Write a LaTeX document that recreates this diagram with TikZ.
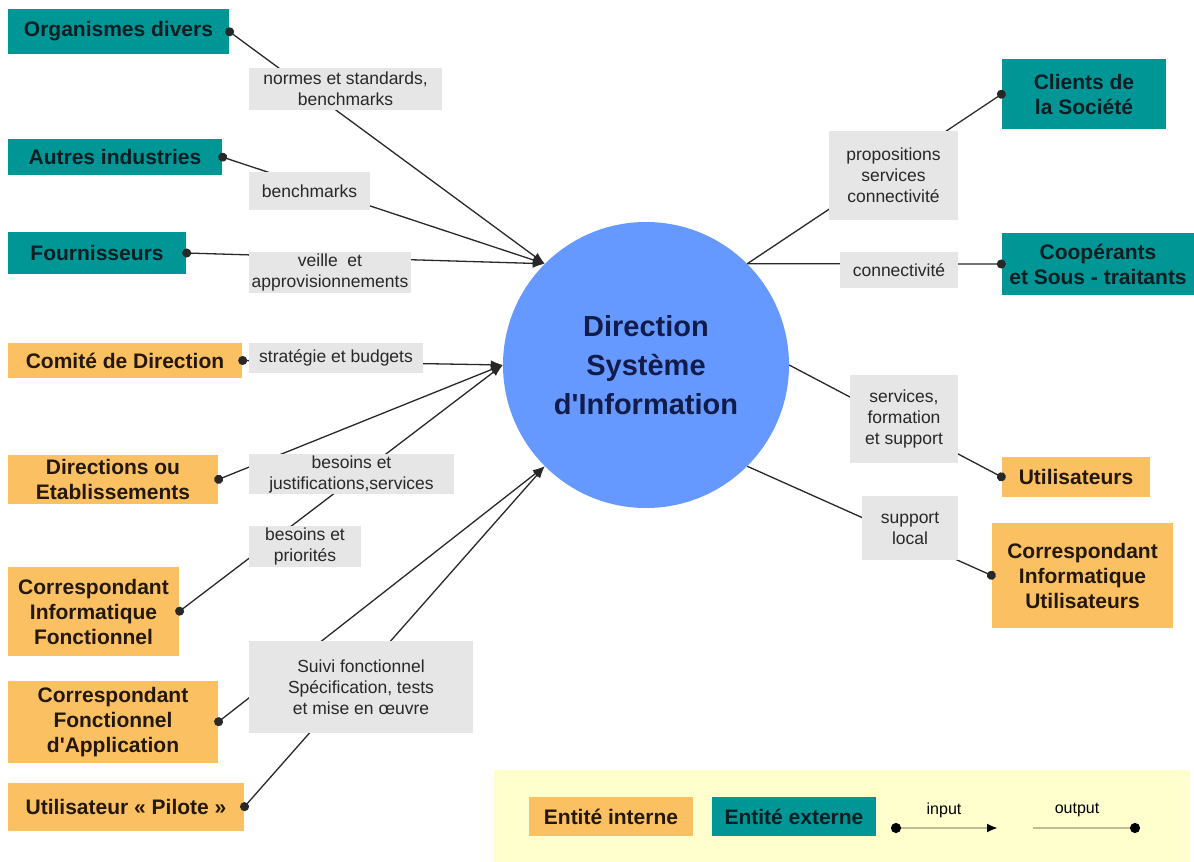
\documentclass[tikz,border=0pt]{standalone}
\usepackage{fontspec}
\setmainfont{Liberation Sans}[Ligatures=TeXOff]
\usetikzlibrary{arrows.meta}
\definecolor{tealC}{RGB}{0,150,150}
\definecolor{orangeC}{RGB}{251,192,98}
\definecolor{grayL}{RGB}{230,230,230}
\definecolor{circC}{RGB}{102,153,255}
\definecolor{navyC}{RGB}{17,28,75}
\definecolor{legBg}{RGB}{255,255,206}
\definecolor{lineC}{RGB}{40,40,40}
\definecolor{legLine}{RGB}{190,190,150}
\definecolor{intText}{RGB}{35,24,10}
\definecolor{extText}{RGB}{8,30,35}
\definecolor{labText}{RGB}{40,40,40}
\begin{document}
\begin{tikzpicture}[x=1pt,y=-1pt,
  ent/.style={inner sep=0pt, align=center, font=\fontsize{21}{25}\selectfont\bfseries},
  intern/.style={ent, fill=orangeC, text=intText},
  extern/.style={ent, fill=tealC, text=extText},
  lab/.style={fill=grayL, inner sep=0pt, align=center, text=labText, font=\fontsize{17.5}{21}\selectfont},
  conn/.style={draw=lineC, line width=1.3pt},
  inp/.style={conn, shorten <=-4pt, {Circle[length=9pt]}-{Latex[length=12pt,width=9pt]}},
  outp/.style={conn, shorten >=-4pt, -{Circle[length=9pt]}},
  legtxt/.style={inner sep=0pt, text=black, font=\fontsize{16}{18}\selectfont}
]
\useasboundingbox (0,0) rectangle (1194,862);
\fill[white] (0,0) rectangle (1194,862);

% legend background
\node[fill=legBg, minimum width=696pt, minimum height=92pt, inner sep=0pt] (legend) at (842,816) {};

% central circle
\node[circle, fill=circC, minimum size=286pt, inner sep=0pt, align=center, text=navyC,
      font=\fontsize{29}{39}\selectfont\bfseries] (dsi) at (646,365) {Direction\\Système\\d'Information};

% external entities (left)
\node[extern, minimum width=221pt, minimum height=45pt] (org) at (118.5,31.5) {Organismes divers};
\node[extern, minimum width=214pt, minimum height=36pt] (aut) at (115,157) {Autres industries};
\node[extern, minimum width=178pt, minimum height=42pt] (fou) at (97,253) {Fournisseurs};
% internal entities (left)
\node[intern, minimum width=234pt, minimum height=35pt] (com) at (125,360.5) {Comité de Direction};
\node[intern, minimum width=210pt, minimum height=49pt] (dir) at (113,479.5) {Directions ou\\Etablissements};
\node[intern, minimum width=171pt, minimum height=89pt] (cif) at (93.5,611.5) {Correspondant\\Informatique\\Fonctionnel};
\node[intern, minimum width=210pt, minimum height=82pt] (cfa) at (113,722) {Correspondant\\Fonctionnel\\d'Application};
\node[intern, minimum width=236pt, minimum height=48pt] (pil) at (126,807) {Utilisateur~«~Pilote~»};
% right entities
\node[extern, minimum width=164pt, minimum height=70pt] (cli) at (1084,94) {Clients de\\la Société};
\node[extern, minimum width=192pt, minimum height=62pt] (coo) at (1098,264) {Coopérants\\et Sous - traitants};
\node[intern, minimum width=148pt, minimum height=40pt] (uti) at (1076,477) {Utilisateurs};
\node[intern, minimum width=181pt, minimum height=105pt] (ciu) at (1082.5,575.5) {Correspondant\\Informatique\\Utilisateurs};

% connectors (inputs)
\draw[inp] (org.east) -- (dsi.135);
\draw[inp] (aut.east) -- (dsi.135);
\draw[inp] (fou.east) -- (dsi.135);
\draw[inp] (com.east) -- (dsi.west);
\draw[inp] (dir.east) -- (dsi.west);
\draw[inp] (cif.east) -- (dsi.west);
\draw[inp] (cfa.east) -- (dsi.225);
\draw[inp] (pil.east) -- (dsi.225);
% connectors (outputs)
\draw[outp] (dsi.45) -- (cli.west);
\draw[outp] (dsi.45) -- (coo.west);
\draw[outp] (dsi.east) -- (uti.west);
\draw[outp] (dsi.315) -- (ciu.west);

% flow labels
\node[lab, minimum width=193pt, minimum height=42pt] (l1) at (345.5,89) {normes et standards,\\benchmarks};
\node[lab, minimum width=121pt, minimum height=38pt] (l2) at (309.5,191) {benchmarks};
\node[lab, minimum width=162pt, minimum height=41pt] (l3) at (330,272.5) {veille\ \ et\\approvisionnements};
\node[lab, minimum width=174pt, minimum height=30pt] (l4) at (336,358) {stratégie et budgets};
\node[lab, minimum width=205pt, minimum height=40pt] (l5) at (351.5,474) {besoins et\\justifications,services};
\node[lab, minimum width=112pt, minimum height=41pt] (l6) at (305,546.5) {besoins et\\priorités};
\node[lab, minimum width=224pt, minimum height=92pt] (l7) at (361,687) {Suivi fonctionnel\\Spécification, tests\\et mise en œuvre};
\node[lab, minimum width=129pt, minimum height=89pt] (r1) at (893.5,175.5) {propositions\\services\\connectivité};
\node[lab, minimum width=118pt, minimum height=36pt] (r2) at (899,270) {connectivité};
\node[lab, minimum width=108pt, minimum height=88pt] (r3) at (904,419) {services,\\formation\\et support};
\node[lab, minimum width=96pt, minimum height=64pt] (r4) at (910,528) {support\\local};

% legend content
\node[intern, minimum width=164pt, minimum height=39pt] (lgi) at (611,816.5) {Entité interne};
\node[extern, minimum width=164pt, minimum height=39pt] (lge) at (794,816.5) {Entité externe};
\coordinate (inA) at (895,828);
\coordinate (inB) at (998,828);
\coordinate (outA) at (1033,828);
\coordinate (outB) at (1136,828);
\draw[draw=legLine, line width=2.5pt, shorten <=-4pt, {Circle[length=10pt,color=black]}-{Latex[length=11pt,width=9pt,color=black]}] (inA) -- (inB);
\draw[draw=legLine, line width=2.5pt, shorten >=-4pt, -{Circle[length=10pt,color=black]}] (outA) -- (outB);
\node[legtxt] (intx) at (944,810) {input};
\node[legtxt] (outx) at (1077,810) {output};
\end{tikzpicture}
\end{document}
